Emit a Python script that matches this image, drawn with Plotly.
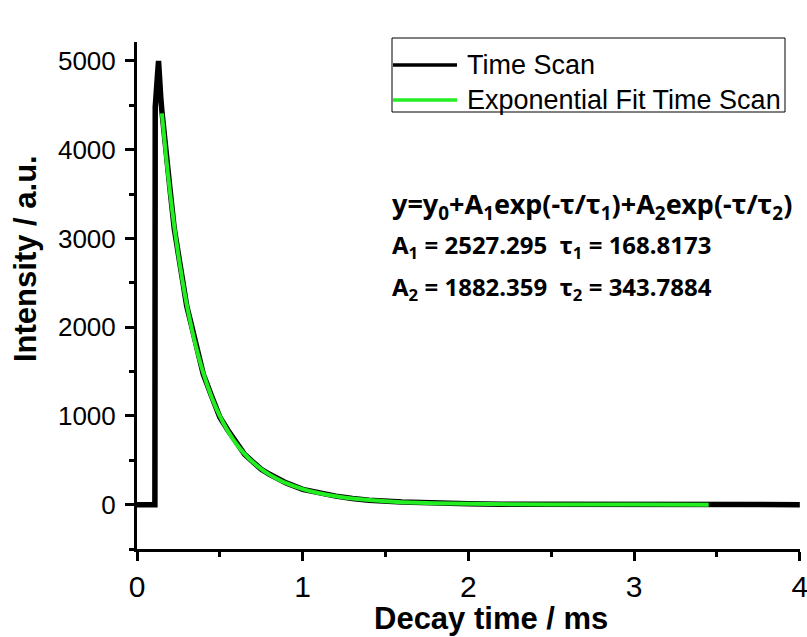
import plotly.graph_objects as go

# ---- data ----
scan_t = [0.0, 0.108, 0.110, 0.118, 0.124, 0.130, 0.134, 0.138, 0.143, 0.150,
          0.175, 0.200, 0.225, 0.250, 0.275, 0.300, 0.325, 0.350, 0.400, 0.450,
          0.500, 0.550, 0.600, 0.650, 0.700, 0.750, 0.800, 0.850, 0.900, 1.000, 1.100,
          1.200, 1.300, 1.400, 1.600, 1.800, 2.000, 2.200, 2.500, 3.000, 3.450, 4.000]
scan_y = [0, 0, 4480, 4620, 4850, 5000, 4780, 4900, 4600, 4440,
          3900, 3540, 3110, 2830, 2500, 2240, 2050, 1845, 1470, 1225,
          985, 835, 690, 565, 480, 398, 342, 290, 245, 172, 130,
          96, 70, 50, 30, 15, 10, 5, 3, 1, 0, 0]

fit_t = [0.15, 0.175, 0.2, 0.225, 0.25, 0.275, 0.3, 0.325, 0.35, 0.4, 0.45, 0.5,
         0.55, 0.6, 0.65, 0.7, 0.75, 0.8, 0.85, 0.9, 1.0, 1.1, 1.2, 1.3, 1.4,
         1.6, 1.8, 2.0, 2.5, 3.0, 3.45]
fit_y = [4410, 3930, 3507, 3134, 2805, 2514, 2256, 2028, 1825, 1484, 1214, 998,
         824, 684, 570, 477, 401, 338, 286, 242, 175, 128, 94, 69, 51,
         28, 16, 9, 2, 0.5, 0.1]

series_names = ["Time Scan", "Exponential Fit Time Scan"]
x_ticks = [0, 1, 2, 3, 4]
y_ticks = [0, 1000, 2000, 3000, 4000, 5000]
eq_lines = [
    "y=y<sub>0</sub>+A<sub>1</sub>exp(-τ/τ<sub>1</sub>)+A<sub>2</sub>exp(-τ/τ<sub>2</sub>)",
    "A<sub>1</sub> = 2527.295  τ<sub>1</sub> = 168.8173",
    "A<sub>2</sub> = 1882.359  τ<sub>2</sub> = 343.7884",
]

W, H = 807, 637
L, R, T, B = 137, 7, 42, 88
PW, PH = W - L - R, H - T - B

def px(x):
    return (x - L) / PW

def py(y):
    return (H - B - y) / PH

BLACK = "#000000"
GREEN = "#22ee22"

fig = go.Figure()
fig.add_trace(go.Scatter(x=scan_t, y=scan_y, mode="lines", name=series_names[0],
                         line=dict(color=BLACK, width=5.5), showlegend=False))
fig.add_trace(go.Scatter(x=fit_t, y=fit_y, mode="lines", name=series_names[1],
                         line=dict(color=GREEN, width=4, shape="spline", smoothing=0.6),
                         showlegend=False))

axis_common = dict(showline=True, linewidth=3, linecolor=BLACK, mirror=False,
                   showgrid=False, zeroline=False, ticks="outside", ticklen=9,
                   tickwidth=3, tickcolor=BLACK, ticklabeloverflow="allow",
                   automargin=False)

fig.update_xaxes(range=[0, 4.001], tickvals=x_ticks, ticktext=[str(v) for v in x_ticks],
                 tickfont=dict(family="Liberation Sans", size=30, color=BLACK),
                 minor=dict(ticks="outside", ticklen=5, tickwidth=3, tickcolor=BLACK,
                            tickvals=[0.5, 1.5, 2.5, 3.5]),
                 **axis_common)
fig.update_yaxes(range=[-500, 5214], tickvals=y_ticks, ticktext=[str(v) for v in y_ticks],
                 tickfont=dict(family="Liberation Sans", size=26, color=BLACK),
                 minor=dict(ticks="outside", ticklen=5, tickwidth=3, tickcolor=BLACK, dtick=500),
                 ticklabelstandoff=4,
                 **axis_common)

shapes = [
    dict(type="rect", xref="paper", yref="paper", x0=px(392), x1=px(785), y0=py(112), y1=py(38),
         line=dict(color=BLACK, width=1), fillcolor="white", layer="above"),
    dict(type="line", xref="paper", yref="paper", x0=px(393), x1=px(457), y0=py(65), y1=py(65),
         line=dict(color=BLACK, width=3.5)),
    dict(type="line", xref="paper", yref="paper", x0=px(393), x1=px(457), y0=py(100), y1=py(100),
         line=dict(color=GREEN, width=3.5)),
]

legend_font = dict(family="Liberation Sans", size=27, color=BLACK)
annotations = [
    dict(xref="paper", yref="paper", x=px(465), y=py(65), text=series_names[0],
         xanchor="left", yanchor="middle", showarrow=False, font=legend_font),
    dict(xref="paper", yref="paper", x=px(465), y=py(100), text=series_names[1],
         xanchor="left", yanchor="middle", showarrow=False, font=legend_font),
    dict(xref="paper", yref="paper", x=px(491), y=py(618), text="<b>Decay time / ms</b>",
         xanchor="center", yanchor="middle", showarrow=False,
         font=dict(family="Liberation Sans", size=31, color=BLACK)),
    dict(xref="paper", yref="paper", x=px(25), y=py(259), text="<b>Intensity / a.u.</b>",
         xanchor="center", yanchor="middle", textangle=-90, showarrow=False,
         font=dict(family="Liberation Sans", size=31, color=BLACK)),
]
eq_y = [205, 246, 288]
eq_sizes = [27, 24, 24]
for txt, yy, sz in zip(eq_lines, eq_y, eq_sizes):
    annotations.append(dict(xref="paper", yref="paper", x=px(390), y=py(yy), text="<b>" + txt + "</b>",
                            xanchor="left", yanchor="middle", showarrow=False,
                            font=dict(family="Noto Sans", size=sz, color=BLACK)))

fig.update_layout(width=W, height=H, autosize=False,
                  margin=dict(l=L, r=R, t=T, b=B, pad=0, autoexpand=False),
                  paper_bgcolor="white", plot_bgcolor="white",
                  shapes=shapes, annotations=annotations, showlegend=False)

fig.write_html("out.html")
